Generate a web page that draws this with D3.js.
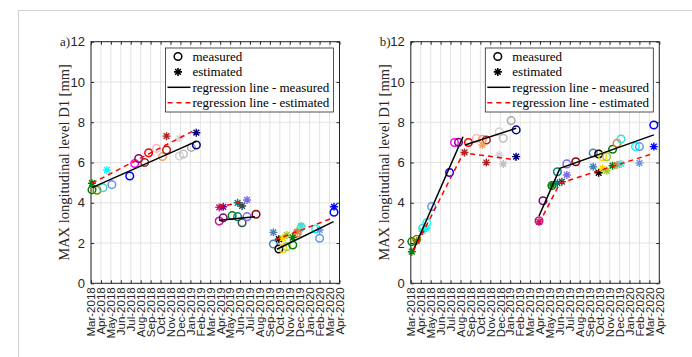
<!DOCTYPE html>
<html>
<head>
<meta charset="utf-8">
<script src="https://cdn.jsdelivr.net/npm/d3@7"></script>
<style>
  body { margin: 0; background: #fff; }
  svg { font-family: "Liberation Serif", "DejaVu Serif", serif; }
</style>
</head>
<body>
<svg width="692" height="357"></svg>
<script>
// month labels on the x axis (index 0 = Mar-2018)
const months = ["Mar-2018","Apr-2018","May-2018","Jun-2018","Jul-2018","Aug-2018","Sep-2018",
  "Oct-2018","Nov-2018","Dec-2018","Jan-2019","Feb-2019","Mar-2019","Apr-2019","May-2019",
  "Jun-2019","Jul-2019","Aug-2019","Sep-2019","Oct-2019","Nov-2019","Dec-2019","Jan-2020",
  "Feb-2020","Mar-2020","Apr-2020"];
const yTicks = [0, 2, 4, 6, 8, 10, 12];

// measurement dates, as month index from Mar-2018, and their colours
const dates = [0.1, 0.6, 1.2, 1.6, 2.1, 3.9, 4.4, 4.8, 5.4, 5.8, 6.6, 7.2, 7.6, 8.9, 9.3, 10.1, 10.6,
  12.9, 13.3, 14.2, 14.75, 15.2, 15.7, 16.6,
  18.35, 18.9, 19.3, 19.7, 20.3, 20.75, 21.15, 22.6, 23.0, 24.45];
const colors = ["#008000","#808000","#48d1cc","#00ffff","#6495ed","#0000ff","#ff00ff","#800080",
  "#a52a2a","#ff0000","#ffb6c1","#f4a460","#b22222","#d3d3d3","#c0c0c0","#a9a9a9","#000080",
  "#c71585","#800080","#008000","#008080","#2f4f4f","#7b68ee","#8b0000",
  "#4682b4","#000000","#ffd700","#9acd32","#008000","#cd853f","#40e0d0","#00ffff","#6495ed","#0000ff"];

// panel a)
const aMeasured = [4.65,4.62,4.75,null,4.9,5.33,5.95,6.2,6.0,6.48,6.7,6.3,6.62,6.32,6.42,6.75,6.87,
  3.09,3.25,3.36,3.31,3.01,3.31,3.43,
  1.95,1.7,1.72,1.82,1.9,2.5,2.78,2.7,2.24,3.53];
const aEstimated = [4.97,null,null,5.63,null,null,null,null,null,null,null,null,7.31,7.2,null,null,7.48,
  3.77,3.8,null,4.0,3.84,4.14,null,
  2.53,2.19,2.24,2.4,2.27,2.56,2.85,null,2.65,3.8];
const aRegMeasured = [[[0.1,4.75],[10.6,7.05]], [[12.9,3.13],[16.5,3.31]], [[18.7,1.69],[24.4,3.06]]];
const aRegEstimated = [[[0.1,4.97],[10.6,7.65]], [[12.8,3.77],[15.2,4.05]], [[18.5,2.15],[24.4,3.26]]];

// panel b)
const bMeasured = [2.07,2.19,2.73,3.01,3.81,5.5,6.99,7.0,null,6.99,7.2,7.15,7.12,7.53,7.2,8.08,7.62,
  3.11,4.1,4.85,5.54,null,5.93,6.04,
  6.47,6.42,6.29,6.29,6.66,6.95,7.17,6.79,6.79,7.86];
const bEstimated = [1.57,2.1,2.6,2.75,null,null,null,null,6.5,null,null,6.87,6.0,6.37,5.93,null,6.29,
  3.05,null,4.88,4.97,5.05,5.38,null,
  5.79,5.49,5.71,5.59,5.84,5.88,5.93,null,5.97,6.79];
const bRegMeasured = [[[0.26,1.65],[5.25,7.28]], [[5.45,6.87],[10.6,7.7]], [[12.9,3.34],[15.0,5.71],[24.45,7.37]]];
const bRegEstimated = [[[0.26,1.6],[5.3,6.48],[10.6,6.13]], [[12.9,2.98],[15.0,4.97],[24.45,6.46]]];

const legendItems = ["measured", "estimated", "regression line - measured", "regression line - estimated"];

const svg = d3.select("svg");

// light frame around the figure
svg.append("rect")
  .attr("x", 18.5).attr("y", 10.5)
  .attr("width", 800).attr("height", 500)
  .attr("fill", "none").attr("stroke", "#d0d0d0");

function starPath(cx, cy, r) {
  let d = r * 0.72;
  return `M${cx - r},${cy}L${cx + r},${cy}M${cx},${cy - r}L${cx},${cy + r}` +
    `M${cx - d},${cy - d}L${cx + d},${cy + d}M${cx - d},${cy + d}L${cx + d},${cy - d}`;
}

function drawPanel(left, tag, measured, estimated, regMeas, regEst) {
  let width = 248.5;
  let x = d3.scaleLinear().domain([0, 25]).range([left, left + width]);
  let y = d3.scaleLinear().domain([0, 12]).range([283.3, 41.7]);
  let g = svg.append("g");

  // grid
  g.append("g").selectAll("line.vg")
    .data(d3.range(months.length))
    .enter().append("line")
    .attr("x1", d => x(d)).attr("x2", d => x(d))
    .attr("y1", y(0)).attr("y2", y(12))
    .attr("stroke", "#e3e3e3").attr("stroke-width", 1);
  g.append("g").selectAll("line.hg")
    .data(yTicks)
    .enter().append("line")
    .attr("x1", x(0)).attr("x2", x(25))
    .attr("y1", d => y(d)).attr("y2", d => y(d))
    .attr("stroke", "#e3e3e3").attr("stroke-width", 1);

  // axes, ticks pointing inward
  let bottom = g.append("g")
    .attr("transform", `translate(0,${y(0)})`)
    .call(d3.axisBottom(x).tickValues(d3.range(months.length))
      .tickFormat(i => months[i]).tickSizeInner(-3).tickSizeOuter(0));
  bottom.selectAll("text")
    .attr("transform", "rotate(-90)")
    .attr("x", -4).attr("y", 0).attr("dy", "0.33em")
    .attr("text-anchor", "end")
    .style("font-size", "11.5px");
  g.append("g")
    .attr("transform", `translate(0,${y(12)})`)
    .call(d3.axisTop(x).tickValues(d3.range(months.length))
      .tickFormat("").tickSizeInner(-3).tickSizeOuter(0));
  g.append("g")
    .attr("transform", `translate(${x(0)},0)`)
    .call(d3.axisLeft(y).tickValues(yTicks).tickSizeInner(-3).tickSizeOuter(0).tickPadding(6))
    .selectAll("text").style("font-size", "13px");
  g.append("g")
    .attr("transform", `translate(${x(25)},0)`)
    .call(d3.axisRight(y).tickValues(yTicks).tickFormat("").tickSizeInner(-3).tickSizeOuter(0));
  g.selectAll(".domain").remove();
  g.selectAll(".tick line").attr("stroke", "#262626");
  g.selectAll(".tick text").attr("fill", "#262626").style("font-family", "inherit");

  g.append("rect")
    .attr("x", x(0)).attr("y", y(12))
    .attr("width", x(25) - x(0)).attr("height", y(0) - y(12))
    .attr("fill", "none").attr("stroke", "#262626").attr("stroke-width", 1);

  // panel tag and y label
  g.append("text")
    .attr("x", left - 31).attr("y", y(12) + 4.5)
    .attr("font-size", 13).attr("fill", "#262626")
    .text(tag);
  g.append("text")
    .attr("transform", `translate(${left - 22},${(y(0) + y(12)) / 2}) rotate(-90)`)
    .attr("text-anchor", "middle")
    .attr("font-size", 14.5).attr("fill", "#262626")
    .text("MAX longitudinal level D1 [mm]");

  // measured points
  g.append("g").selectAll("circle")
    .data(dates.map((t, i) => ({ t: t, v: measured[i], c: colors[i] })).filter(d => d.v != null))
    .enter().append("circle")
    .attr("cx", d => x(d.t)).attr("cy", d => y(d.v)).attr("r", 3.8)
    .attr("fill", "none").attr("stroke", d => d.c).attr("stroke-width", 1.5);

  // estimated points
  g.append("g").selectAll("path")
    .data(dates.map((t, i) => ({ t: t, v: estimated[i], c: colors[i] })).filter(d => d.v != null))
    .enter().append("path")
    .attr("d", d => starPath(x(d.t), y(d.v), 4))
    .attr("fill", "none").attr("stroke", d => d.c).attr("stroke-width", 1.4);

  // regression lines
  let line = d3.line().x(d => x(d[0])).y(d => y(d[1]));
  g.append("g").selectAll("path")
    .data(regMeas)
    .enter().append("path")
    .attr("d", line)
    .attr("fill", "none").attr("stroke", "#000").attr("stroke-width", 1.5);
  g.append("g").selectAll("path")
    .data(regEst)
    .enter().append("path")
    .attr("d", line)
    .attr("fill", "none").attr("stroke", "#ff0000").attr("stroke-width", 1.5)
    .attr("stroke-dasharray", "5,4");

  // legend
  let lg = g.append("g").attr("transform", `translate(${left + 74.5},48)`);
  lg.append("rect")
    .attr("width", 168).attr("height", 64)
    .attr("fill", "#fff").attr("stroke", "#262626").attr("stroke-width", 0.8);
  let rows = lg.selectAll("g.row")
    .data(legendItems)
    .enter().append("g")
    .attr("transform", (d, i) => `translate(0,${8.5 + i * 15.4})`);
  rows.append("text")
    .attr("x", 27).attr("y", 0).attr("dy", "0.33em")
    .attr("font-size", 13).attr("fill", "#000")
    .text(d => d);
  rows.filter((d, i) => i === 0).append("circle")
    .attr("cx", 12.5).attr("cy", 0).attr("r", 3.8)
    .attr("fill", "none").attr("stroke", "#000").attr("stroke-width", 1.5);
  rows.filter((d, i) => i === 1).append("path")
    .attr("d", starPath(12.5, 0, 4))
    .attr("fill", "none").attr("stroke", "#000").attr("stroke-width", 1.6);
  rows.filter((d, i) => i === 2).append("line")
    .attr("x1", 2).attr("x2", 25)
    .attr("stroke", "#000").attr("stroke-width", 1.5);
  rows.filter((d, i) => i === 3).append("line")
    .attr("x1", 2).attr("x2", 25)
    .attr("stroke", "#ff0000").attr("stroke-width", 1.5).attr("stroke-dasharray", "5,4");
}

drawPanel(91, "a)", aMeasured, aEstimated, aRegMeasured, aRegEstimated);
drawPanel(410.8, "b)", bMeasured, bEstimated, bRegMeasured, bRegEstimated);
</script>
</body>
</html>
